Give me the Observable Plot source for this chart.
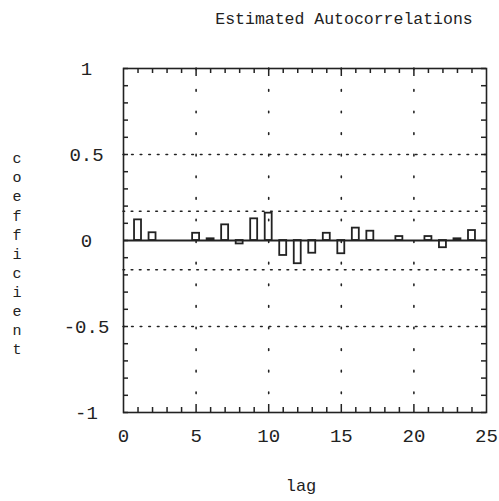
<!DOCTYPE html>
<html><head><meta charset="utf-8">
<script src="https://cdn.jsdelivr.net/npm/d3@7"></script>
<script src="https://cdn.jsdelivr.net/npm/@observablehq/plot@0.6"></script>
<style>body{margin:0;background:#fff}</style>
</head><body><div id="chart"></div>
<script>
const titleText = "Estimated Autocorrelations";
const xLabelText = "lag";
const yLabelText = "coefficient";
const lags = d3.range(1, 25);
const acf = [0.12, 0.045, 0, 0, 0.042, 0.01, 0.091, -0.02, 0.126, 0.159, -0.087, -0.135,
             -0.074, 0.042, -0.077, 0.072, 0.054, 0, 0.023, 0, 0.023, -0.042, 0.01, 0.058];
const xTickLabels = [0, 5, 10, 15, 20, 25];
const yTickLabels = [1, 0.5, 0, -0.5, -1];
const xMinorTicks = d3.range(0, 26).filter(d => d % 5 !== 0);
const xMajorTicks = [5, 10, 15, 20];
const yMinorTicks = d3.range(-10, 11).map(d => d / 10);
const gridX = [5, 10, 15, 20];
const gridY = [-0.5, 0.5];
const confBand = [-0.17, 0.17];

const data = lags.map((lag, i) => ({lag, value: acf[i]}));
const font = "Liberation Mono, DejaVu Sans Mono, monospace";
const ink = "#222";

const chart = Plot.plot({
  width: 499,
  height: 501,
  marginLeft: 123,
  marginRight: 13,
  marginTop: 68,
  marginBottom: 89,
  style: {fontFamily: font, background: "#fff", color: ink},
  x: {domain: [0, 25], axis: null},
  y: {domain: [-1, 1], axis: null},
  marks: [
    Plot.ruleY(gridY, {y: d => d, stroke: ink, strokeWidth: 1.6, strokeDasharray: "1.6,7", strokeLinecap: "round"}),
    Plot.ruleY(confBand, {y: d => d, stroke: ink, strokeWidth: 1.6, strokeDasharray: "1.6,6.6", strokeLinecap: "round"}),
    Plot.ruleX(gridX, {x: d => d, stroke: ink, strokeWidth: 1.6, strokeDasharray: "1.6,20", strokeLinecap: "round"}),
    Plot.rectY(data, {x1: d => d.lag - 0.24, x2: d => d.lag + 0.24, y: "value", fill: "none", stroke: ink, strokeWidth: 1.8}),
    Plot.ruleY([0], {stroke: ink, strokeWidth: 2.2}),
    Plot.frame({stroke: ink, strokeWidth: 1.6}),
    // inward ticks: bottom & top
    Plot.ruleX(xMinorTicks, {x: d => d, y1: -1, y2: -1, insetTop: -5, stroke: ink, strokeWidth: 1.5}),
    Plot.ruleX(xMajorTicks, {x: d => d, y1: -1, y2: -1, insetTop: -8, stroke: ink, strokeWidth: 1.5}),
    Plot.ruleX(xMinorTicks, {x: d => d, y1: 1, y2: 1, insetBottom: -5, stroke: ink, strokeWidth: 1.5}),
    Plot.ruleX(xMajorTicks, {x: d => d, y1: 1, y2: 1, insetBottom: -8, stroke: ink, strokeWidth: 1.5}),
    // inward ticks: left & right
    Plot.ruleY(yMinorTicks, {y: d => d, x1: 0, x2: 0, insetRight: -5, stroke: ink, strokeWidth: 1.5}),
    Plot.ruleY(yMinorTicks, {y: d => d, x1: 25, x2: 25, insetLeft: -5, stroke: ink, strokeWidth: 1.5}),
    // tick labels
    Plot.text(yTickLabels, {y: d => d, frameAnchor: "left", dx: -37, text: d => String(d), textAnchor: "middle", fontSize: 19, fill: ink}),
    Plot.text(xTickLabels, {x: d => d, frameAnchor: "bottom", dy: 29, text: d => String(d), textAnchor: "middle", fontSize: 19, fill: ink}),
    // titles
    Plot.text([titleText], {frameAnchor: "top", dx: 39, dy: -56, text: d => d, fontSize: 16.5, fill: ink}),
    Plot.text([xLabelText], {frameAnchor: "bottom", dx: -4, dy: 78, text: d => d, fontSize: 17, fill: ink}),
    Plot.text([yLabelText.split("").join("\n")], {frameAnchor: "left", dx: -111, dy: 12, text: d => d, fontSize: 15, lineHeight: 1.27, fill: ink})
  ]
});
document.getElementById("chart").appendChild(chart);
</script>
</body></html>
